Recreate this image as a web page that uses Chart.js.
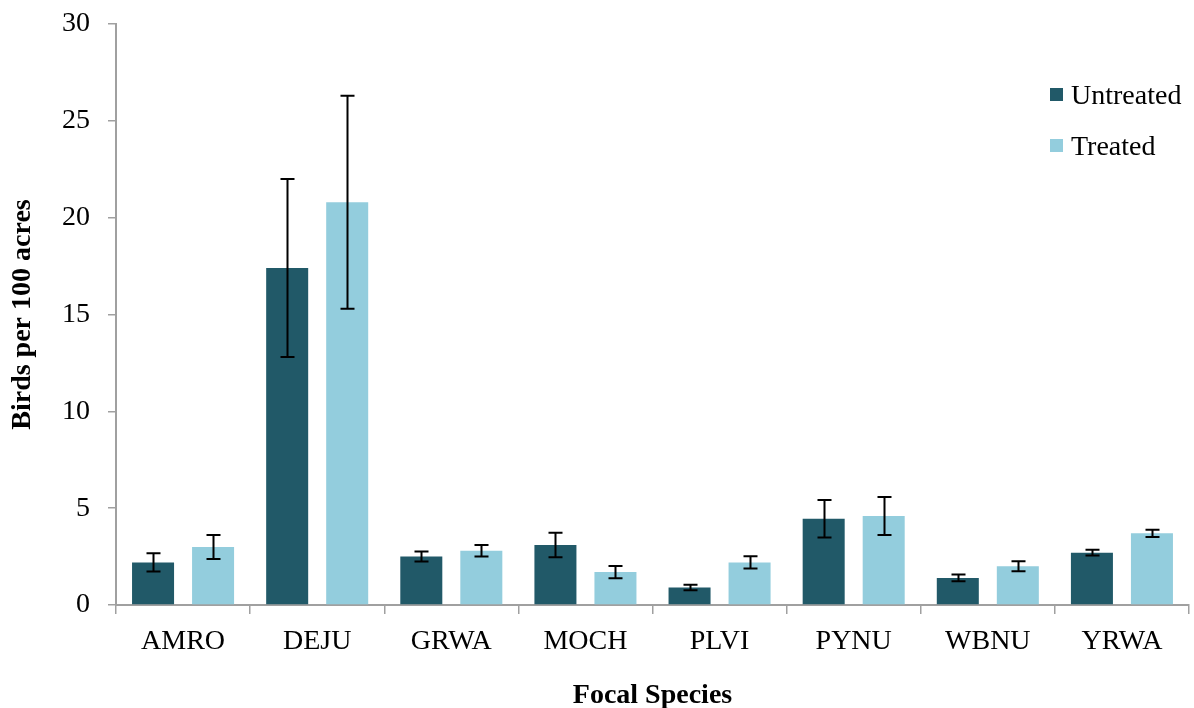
<!DOCTYPE html>
<html>
<head>
<meta charset="utf-8">
<script src="https://cdn.jsdelivr.net/npm/chart.js@4.4.1/dist/chart.umd.min.js"></script>
<style>
  html, body { margin: 0; padding: 0; background: #ffffff; }
  #wrap { width: 1194px; height: 708px; position: relative; }
</style>
</head>
<body>
<div id="wrap"><canvas id="chart" width="1194" height="708"></canvas></div>
<script>
// Focal species and bird densities (birds per 100 acres)
const species = ['AMRO', 'DEJU', 'GRWA', 'MOCH', 'PLVI', 'PYNU', 'WBNU', 'YRWA'];
const untreated = [2.2, 17.4, 2.5, 3.1, 0.9, 4.45, 1.4, 2.7];
const treated = [3.0, 20.8, 2.8, 1.7, 2.2, 4.6, 2.0, 3.7];
// Standard errors
const untreatedErr = [0.47, 4.6, 0.26, 0.63, 0.14, 0.97, 0.17, 0.15];
const treatedErr = [0.62, 5.5, 0.3, 0.32, 0.32, 0.98, 0.26, 0.19];
const yTicks = [0, 5, 10, 15, 20, 25, 30];

const FONT = "'Liberation Serif', 'Times New Roman', serif";
const AXIS_GREY = '#a0a0a0';

const errorBars = {
  id: 'errorBars',
  afterDatasetsDraw(chart) {
    const { ctx } = chart;
    const yScale = chart.scales.y;
    ctx.save();
    ctx.strokeStyle = '#000000';
    ctx.lineWidth = 2;
    chart.data.datasets.forEach((ds, di) => {
      const meta = chart.getDatasetMeta(di);
      meta.data.forEach((bar, i) => {
        const v = ds.data[i];
        const e = ds.errors[i];
        const x = Math.round(bar.x) + 0.5;
        const yTop = yScale.getPixelForValue(v + e);
        const yBot = yScale.getPixelForValue(v - e);
        const cap = 7;
        ctx.beginPath();
        ctx.moveTo(x, yTop); ctx.lineTo(x, yBot);
        ctx.moveTo(x - cap, yTop); ctx.lineTo(x + cap, yTop);
        ctx.moveTo(x - cap, yBot); ctx.lineTo(x + cap, yBot);
        ctx.stroke();
      });
    });
    ctx.restore();
  }
};

const sideLegend = {
  id: 'sideLegend',
  afterDraw(chart) {
    const { ctx } = chart;
    ctx.save();
    ctx.font = '28px ' + FONT;
    ctx.textBaseline = 'alphabetic';
    ctx.textAlign = 'left';
    const rows = [104, 155];
    chart.data.datasets.forEach((ds, di) => {
      const base = rows[di];
      ctx.fillStyle = ds.backgroundColor;
      ctx.fillRect(1050, base - 16, 13, 13);
      ctx.fillStyle = '#000000';
      ctx.fillText(ds.label, 1071, base);
    });
    ctx.restore();
  }
};

new Chart(document.getElementById('chart'), {
  type: 'bar',
  data: {
    labels: species,
    datasets: [
      { label: 'Untreated', data: untreated, errors: untreatedErr, backgroundColor: '#215968' },
      { label: 'Treated', data: treated, errors: treatedErr, backgroundColor: '#93cddd' }
    ]
  },
  options: {
    responsive: false,
    animation: false,
    devicePixelRatio: 1,
    categoryPercentage: 0.895,
    barPercentage: 0.7,
    layout: { padding: { left: 0, top: 24, right: 5, bottom: 0 } },
    plugins: {
      legend: { display: false },
      tooltip: { enabled: false }
    },
    scales: {
      x: {
        grid: { display: true, drawOnChartArea: false, offset: true, tickLength: 9, color: AXIS_GREY, lineWidth: 1.5 },
        border: { display: true, color: AXIS_GREY, width: 2 },
        ticks: { color: '#000000', font: { family: FONT, size: 28 }, padding: 11, maxRotation: 0 },
        title: { display: true, text: 'Focal Species', color: '#000000', font: { family: FONT, size: 28, weight: 'bold', lineHeight: 0.9 }, padding: { top: 0, bottom: 0 } },
        afterFit(scale) { scale.height = 103; scale.paddingLeft = 0; scale.paddingRight = 0; }
      },
      y: {
        min: 0,
        max: 30,
        afterBuildTicks(scale) { scale.ticks = yTicks.map(v => ({ value: v })); },
        grid: { display: true, drawOnChartArea: false, tickLength: 8, color: AXIS_GREY, lineWidth: 1.5 },
        border: { display: true, color: AXIS_GREY, width: 2 },
        ticks: { color: '#000000', font: { family: FONT, size: 28 }, padding: 18 },
        title: { display: true, text: 'Birds per 100 acres', color: '#000000', font: { family: FONT, size: 28, weight: 'bold' }, padding: { top: 6, bottom: 0 } },
        afterFit(scale) { scale.width = 116; scale.paddingTop = 0; scale.paddingBottom = 0; }
      }
    }
  },
  plugins: [errorBars, sideLegend]
});
</script>
</body>
</html>
